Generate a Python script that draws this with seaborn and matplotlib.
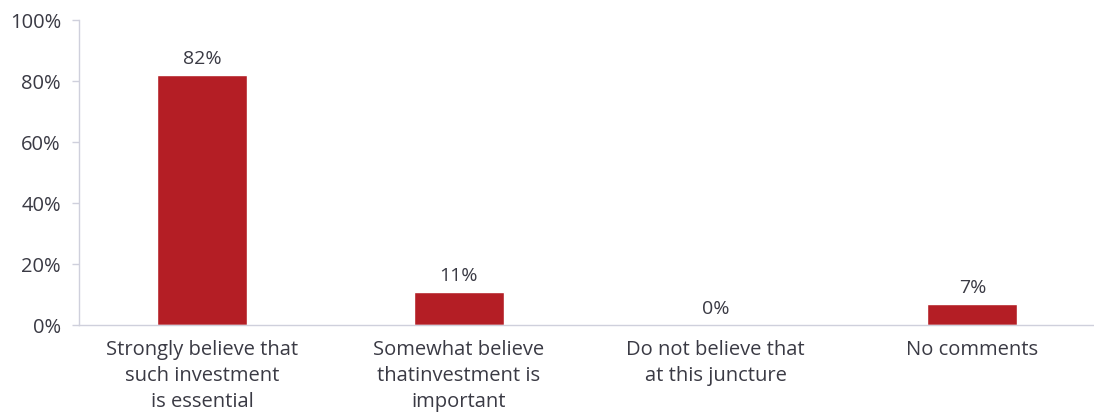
import matplotlib
matplotlib.use("Agg")
import matplotlib.pyplot as plt
import seaborn as sns
import pandas as pd
import numpy as np

categories = [
    "Strongly believe that\nsuch investment\nis essential",
    "Somewhat believe\nthatinvestment is\nimportant",
    "Do not believe that\nat this juncture",
    "No comments",
]
values = [82, 11, 0, 7]
value_labels = ["82%", "11%", "0%", "7%"]
y_ticks = [0, 20, 40, 60, 80, 100]
y_tick_labels = ["0%", "20%", "40%", "60%", "80%", "100%"]

sns.set_theme(style="white")
plt.rcParams["font.family"] = ["Open Sans", "DejaVu Sans"]

text_color = "#3a3a44"
axis_color = "#cfd0dc"
bar_color = "#b41e25"
font_size = 14.5

df = pd.DataFrame({"category": categories, "value": values})

fig = plt.figure(figsize=(10.94, 4.12), dpi=100)
ax = fig.add_axes([0.0722, 0.211, 0.9292, 0.740])

sns.barplot(data=df, x="category", y="value", color=bar_color,
            saturation=1, width=0.35, ax=ax)

for i, (v, lab) in enumerate(zip(values, value_labels)):
    ax.annotate(lab, xy=(i, v), xytext=(0, 5), textcoords="offset points",
                ha="center", va="bottom", fontsize=14, color=text_color)

ax.set_xlim(-0.48, len(categories) - 0.52)
ax.set_ylim(0, 100)
ax.set_yticks(y_ticks)
ax.set_yticklabels(y_tick_labels, fontsize=font_size, color=text_color)
ax.set_xticks(range(len(categories)))
ax.set_xticklabels(categories, fontsize=font_size, color=text_color,
                   linespacing=1.4)
ax.set_xlabel("")
ax.set_ylabel("")

# category separators on the x axis
ax.set_xticks(np.arange(len(categories) - 1) + 0.5, minor=True)
ax.tick_params(axis="x", which="major", length=0, pad=11)
ax.tick_params(axis="x", which="minor", length=5, width=1, color=axis_color,
               direction="out")
ax.tick_params(axis="y", length=5, width=1, color=axis_color,
               direction="out", pad=8, left=True)

for side in ["top", "right"]:
    ax.spines[side].set_visible(False)
for side in ["left", "bottom"]:
    ax.spines[side].set_color(axis_color)
    ax.spines[side].set_linewidth(1)

fig.savefig("out.png", dpi=100)
